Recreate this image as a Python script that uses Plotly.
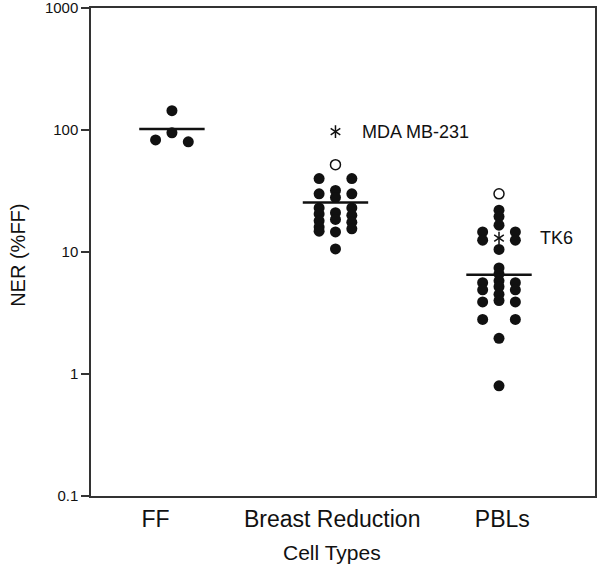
import math
import plotly.graph_objects as go

# ---- data ----
categories = ["FF", "Breast Reduction", "PBLs"]
cat_pos = [0, 1, 2]
tick_pos = [-0.1, 0.98, 2.02]

ff_vals = [144, 95, 83, 80]
ff_cols = [0, 0, -1, 1]

br_vals = [40, 30, 23, 20.5, 18, 16, 14.8,
           32, 28, 21, 18.5, 14.6, 10.6,
           40, 30, 23, 20, 17.5, 15.5]
br_cols = [-1, -1, -1, -1, -1, -1, -1,
           0, 0, 0, 0, 0, 0,
           1, 1, 1, 1, 1, 1]

pbl_vals = [22, 19.5, 16.6, 10.5, 7.4, 6.6, 5.8, 5.2, 4.5, 4.0, 1.96, 0.8,
            14.6, 12.5, 5.6, 4.9, 3.9, 2.8,
            14.6, 12.5, 5.6, 4.9, 3.9, 2.8]
pbl_cols = [0, 0, 0, 0, 0, 0, 0, 0, 0, 0, 0, 0,
            -1, -1, -1, -1, -1, -1,
            1, 1, 1, 1, 1, 1]

group_means = [102, 25.5, 6.5]

outlier_groups = [1, 2]
outlier_vals = [52, 30]

cell_line_groups = [1, 2]
cell_line_vals = [97, 13]
cell_line_names = ["MDA MB-231", "TK6"]

y_ticks = [0.1, 1, 10, 100, 1000]
y_ticktext = ["0.1", "1", "10", "100", "1000"]

# ---- style ----
col_step = 0.1
half_w = 0.2
FONT = "Liberation Sans, Arial, Helvetica, sans-serif"
INK = "#111111"

fig = go.Figure()

xs, ys = [], []
for g, vals, cols in [(0, ff_vals, ff_cols), (1, br_vals, br_cols), (2, pbl_vals, pbl_cols)]:
    for v, c in zip(vals, cols):
        xs.append(cat_pos[g] + c * col_step)
        ys.append(v)
fig.add_trace(go.Scatter(x=xs, y=ys, mode="markers",
                         marker=dict(size=11, color=INK, line=dict(width=0)),
                         showlegend=False, hoverinfo="skip"))

for g, m in enumerate(group_means):
    fig.add_trace(go.Scatter(x=[cat_pos[g] - half_w, cat_pos[g] + half_w], y=[m, m],
                             mode="lines", line=dict(color=INK, width=2.5),
                             showlegend=False, hoverinfo="skip"))

fig.add_trace(go.Scatter(x=[cat_pos[g] for g in outlier_groups], y=outlier_vals,
                         mode="markers",
                         marker=dict(size=10, color="white", symbol="circle",
                                     line=dict(color=INK, width=1.5)),
                         showlegend=False, hoverinfo="skip"))

for sym in ["y-up-open", "y-down-open"]:
    fig.add_trace(go.Scatter(x=[cat_pos[g] for g in cell_line_groups], y=cell_line_vals,
                             mode="markers",
                             marker=dict(size=8, symbol=sym, color=INK,
                                         line=dict(color=INK, width=1.5)),
                             showlegend=False, hoverinfo="skip"))

for g, v, name, xs_ in zip(cell_line_groups, cell_line_vals, cell_line_names, [25, 39]):
    fig.add_annotation(x=cat_pos[g], y=math.log10(v), text=name, showarrow=False,
                       xanchor="left", yanchor="middle", xshift=xs_,
                       font=dict(family=FONT, size=18, color=INK))

fig.add_annotation(x=0.478, y=-0.115, xref="paper", yref="paper", text="Cell Types",
                   showarrow=False, xanchor="center", yanchor="middle",
                   font=dict(family=FONT, size=21, color=INK))
fig.add_annotation(x=-0.145, y=0.494, xref="paper", yref="paper", text="NER (%FF)",
                   textangle=-90, showarrow=False, xanchor="center", yanchor="middle",
                   font=dict(family=FONT, size=20, color=INK))

fig.update_layout(
    width=600, height=575,
    margin=dict(l=91, r=5, t=8, b=79, autoexpand=False),
    paper_bgcolor="white", plot_bgcolor="white",
    font=dict(family=FONT, color=INK),
    showlegend=False,
    xaxis=dict(range=[-0.495, 2.587], tickmode="array", tickvals=tick_pos,
               ticktext=categories, showgrid=False, zeroline=False,
               showline=True, mirror=True, linecolor="#333333", linewidth=1.5,
               ticks="", ticklabelstandoff=2, automargin=False,
               tickfont=dict(family=FONT, size=23, color=INK)),
    yaxis=dict(type="log", range=[-1.0005, 3.0005], tickmode="array", tickvals=y_ticks,
               ticktext=y_ticktext, showgrid=False, zeroline=False,
               showline=True, mirror=True, linecolor="#333333", linewidth=1.5,
               ticks="outside", ticklen=8, tickwidth=1.5, tickcolor="#333333",
               automargin=False, ticklabeloverflow="allow",
               tickfont=dict(family=FONT, size=15, color=INK)),
)

# remove the default 8px page margin so the 600x575 figure fills the view exactly
fig.write_html("out.html", config={"displayModeBar": False},
               post_script="document.body.style.margin='0';")
